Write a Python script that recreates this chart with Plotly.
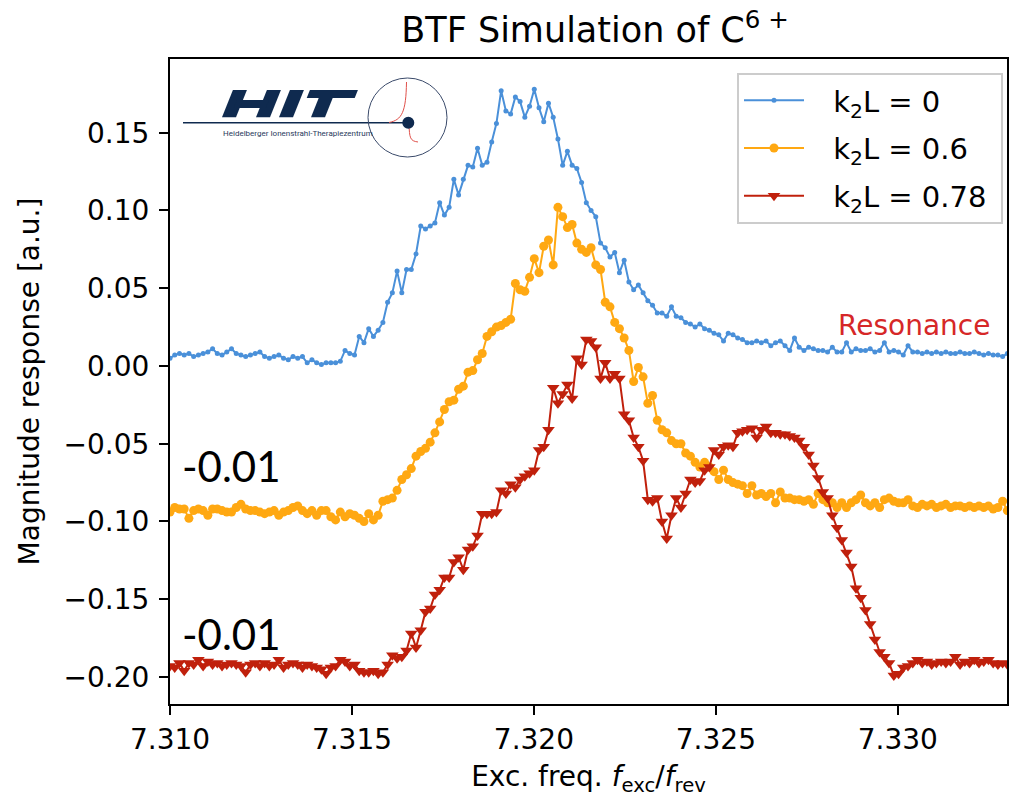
import plotly.graph_objects as go

# ---------------- data ----------------
x_start = 7.3100
x_step = 0.00013
n_pts = 179

k2l_0 = [
 0.005, 0.007, 0.008, 0.007, 0.008, 0.006, 0.007, 0.008, 0.009, 0.011,
 0.008, 0.007, 0.009, 0.011, 0.008, 0.007, 0.006, 0.007, 0.008, 0.009,
 0.006, 0.005, 0.006, 0.007, 0.005, 0.004, 0.006, 0.005, 0.006, 0.002,
 0.004, 0.002, 0.001, 0.002, 0.002, 0.002, 0.003, 0.010, 0.008, 0.007,
 0.019, 0.015, 0.024, 0.019, 0.023, 0.028, 0.041, 0.047, 0.061, 0.047,
 0.062, 0.062, 0.072, 0.090, 0.088, 0.090, 0.092, 0.105, 0.097, 0.102,
 0.120, 0.110, 0.120, 0.129, 0.128, 0.140, 0.129, 0.131, 0.144, 0.156,
 0.177, 0.164, 0.162, 0.173, 0.170, 0.160, 0.167, 0.178, 0.166, 0.157,
 0.169, 0.160, 0.146, 0.129, 0.138, 0.129, 0.127, 0.118, 0.105, 0.100,
 0.096, 0.079, 0.076, 0.070, 0.073, 0.060, 0.068, 0.054, 0.049, 0.052,
 0.047, 0.042, 0.039, 0.034, 0.034, 0.032, 0.038, 0.032, 0.031, 0.028,
 0.027, 0.025, 0.027, 0.024, 0.023, 0.021, 0.020, 0.016, 0.021, 0.020,
 0.018, 0.017, 0.015, 0.015, 0.016, 0.015, 0.016, 0.013, 0.015, 0.016,
 0.013, 0.010, 0.018, 0.012, 0.010, 0.012, 0.011, 0.010, 0.010, 0.009,
 0.012, 0.009, 0.009, 0.015, 0.009, 0.011, 0.010, 0.010, 0.011, 0.009,
 0.010, 0.015, 0.009, 0.010, 0.009, 0.007, 0.013, 0.009, 0.009, 0.008,
 0.009, 0.008, 0.009, 0.008, 0.009, 0.008, 0.008, 0.009, 0.008, 0.008,
 0.009, 0.008, 0.007, 0.008, 0.007, 0.007, 0.006, 0.008, 0.009,
]

k2l_06 = [
 -0.094, -0.091, -0.092, -0.092, -0.098, -0.093, -0.092, -0.093, -0.096, -0.092,
 -0.092, -0.093, -0.094, -0.094, -0.091, -0.089, -0.092, -0.093, -0.093, -0.094,
 -0.095, -0.094, -0.093, -0.096, -0.094, -0.093, -0.091, -0.090, -0.093, -0.095,
 -0.093, -0.096, -0.093, -0.093, -0.097, -0.099, -0.094, -0.097, -0.095, -0.096,
 -0.098, -0.100, -0.095, -0.099, -0.096, -0.087, -0.086, -0.085, -0.080, -0.073,
 -0.070, -0.066, -0.058, -0.055, -0.053, -0.049, -0.043, -0.036, -0.028, -0.023,
 -0.022, -0.015, -0.013, -0.004, -0.003, 0.004, 0.008, 0.019, 0.022, 0.025,
 0.026, 0.028, 0.030, 0.053, 0.049, 0.048, 0.057, 0.069, 0.060, 0.077,
 0.081, 0.065, 0.102, 0.096, 0.089, 0.091, 0.079, 0.075, 0.073, 0.076,
 0.065, 0.062, 0.041, 0.038, 0.028, 0.024, 0.018, 0.010, -0.010, -0.001,
 -0.007, -0.024, -0.019, -0.035, -0.041, -0.043, -0.048, -0.050, -0.050, -0.056,
 -0.058, -0.062, -0.065, -0.062, -0.065, -0.068, -0.073, -0.067, -0.073, -0.075,
 -0.076, -0.077, -0.082, -0.077, -0.083, -0.082, -0.084, -0.082, -0.088, -0.081,
 -0.085, -0.085, -0.086, -0.086, -0.087, -0.086, -0.089, -0.082, -0.086, -0.088,
 -0.088, -0.091, -0.088, -0.091, -0.088, -0.086, -0.083, -0.088, -0.090, -0.088,
 -0.091, -0.086, -0.085, -0.087, -0.088, -0.088, -0.086, -0.090, -0.091, -0.089,
 -0.090, -0.089, -0.091, -0.090, -0.089, -0.091, -0.090, -0.090, -0.091, -0.090,
 -0.091, -0.090, -0.091, -0.090, -0.092, -0.091, -0.087, -0.093, -0.092,
]

k2l_078 = [
 -0.193, -0.194, -0.191, -0.196, -0.191, -0.192, -0.189, -0.193, -0.190, -0.192,
 -0.191, -0.193, -0.192, -0.191, -0.192, -0.193, -0.197, -0.192, -0.191, -0.193,
 -0.191, -0.193, -0.192, -0.189, -0.194, -0.192, -0.191, -0.192, -0.194, -0.192,
 -0.193, -0.194, -0.195, -0.198, -0.194, -0.193, -0.189, -0.190, -0.193, -0.192,
 -0.196, -0.197, -0.197, -0.196, -0.198, -0.197, -0.192, -0.186, -0.188, -0.187,
 -0.183, -0.172, -0.181, -0.170, -0.158, -0.156, -0.147, -0.144, -0.136, -0.136,
 -0.126, -0.123, -0.131, -0.118, -0.116, -0.109, -0.095, -0.095, -0.095, -0.094,
 -0.080, -0.082, -0.076, -0.078, -0.073, -0.071, -0.069, -0.067, -0.054, -0.052,
 -0.041, -0.014, -0.024, -0.018, -0.012, -0.021, 0.005, 0.001, 0.017, 0.016,
 0.012, -0.008, 0.002, -0.008, -0.005, -0.008, -0.031, -0.035, -0.046, -0.052,
 -0.061, -0.086, -0.087, -0.085, -0.100, -0.111, -0.096, -0.085, -0.091, -0.082,
 -0.073, -0.075, -0.074, -0.067, -0.065, -0.054, -0.057, -0.052, -0.051, -0.052,
 -0.043, -0.042, -0.041, -0.040, -0.046, -0.041, -0.039, -0.043, -0.043, -0.044,
 -0.044, -0.045, -0.046, -0.048, -0.052, -0.057, -0.064, -0.072, -0.081, -0.085,
 -0.096, -0.104, -0.112, -0.120, -0.129, -0.143, -0.149, -0.157, -0.166, -0.176,
 -0.184, -0.187, -0.191, -0.199, -0.198, -0.194, -0.193, -0.191, -0.189, -0.191,
 -0.190, -0.192, -0.191, -0.190, -0.191, -0.190, -0.187, -0.192, -0.190, -0.191,
 -0.189, -0.191, -0.190, -0.189, -0.191, -0.192, -0.191, -0.192, -0.193,
]

series_names = ["k<sub>2</sub>L = 0", "k<sub>2</sub>L = 0.6", "k<sub>2</sub>L = 0.78"]
x_ticks = [7.310, 7.315, 7.320, 7.325, 7.330]
y_ticks = [-0.20, -0.15, -0.10, -0.05, 0.00, 0.05, 0.10, 0.15]
offset_labels = ["-0.01", "-0.01"]

freq = [round(x_start + x_step * i, 5) for i in range(n_pts)]

# ---------------- layout geometry ----------------
W, H = 1010, 802
ML, MR, MT, MB = 170, 3, 59, 98
PW, PH = W - ML - MR, H - MT - MB


def px(xp):
    return (xp - ML) / PW


def py(yp):
    return (H - MB - yp) / PH


FONT = "DejaVu Sans, Verdana, sans-serif"
BLUE, ORANGE, RED = "#4a90d9", "#ffa812", "#c0200c"
NAVY = "#0f2a4f"
PRE = "\u00a0\u00a0\u2009"
POST = "\u00a0"

fig = go.Figure()
fig.add_trace(go.Scatter(x=freq, y=k2l_0, mode="lines+markers",
                         name=PRE + series_names[0] + POST, legendgroup="a",
                         line=dict(color=BLUE, width=2),
                         marker=dict(color=BLUE, size=5, symbol="circle")))
fig.add_trace(go.Scatter(x=freq, y=k2l_06, mode="lines+markers",
                         name=PRE + series_names[1] + POST, legendgroup="b",
                         line=dict(color=ORANGE, width=2),
                         marker=dict(color=ORANGE, size=9, symbol="circle")))
fig.add_trace(go.Scatter(x=freq, y=k2l_078, mode="lines+markers",
                         name=PRE + series_names[2] + POST, legendgroup="c",
                         line=dict(color=RED, width=2),
                         marker=dict(color=RED, size=11, symbol="triangle-down")))

axis_common = dict(showline=True, linecolor="black", linewidth=2, mirror=True,
                   ticks="outside", ticklen=9, tickwidth=2, tickcolor="black",
                   showgrid=False, zeroline=False, automargin=False,
                   tickfont=dict(family=FONT, size=28, color="black"))

fig.update_xaxes(range=[7.3100, 7.3330], tickvals=x_ticks, tickformat=".3f",
                 title=dict(text="Exc. freq. <i>f</i><sub>exc</sub>/<i>f</i><sub>rev</sub>",
                            font=dict(family=FONT, size=28, color="black"), standoff=12),
                 **axis_common)
fig.update_yaxes(range=[-0.2174, 0.1974], tickvals=y_ticks, tickformat=".2f",
                 ticklabelstandoff=4,
                 title=dict(text="Magnitude response [a.u.]",
                            font=dict(family=FONT, size=28, color="black"), standoff=16),
                 **axis_common)

# ---------------- HIT logo (decoration) ----------------
shapes = []


def poly(pts, color):
    d = "M " + " L ".join(f"{px(a):.5f},{py(b):.5f}" for a, b in pts) + " Z"
    return dict(type="path", xref="paper", yref="paper", path=d,
                fillcolor=color, line=dict(width=0), layer="above")


top, bot, sl = 90.0, 117.3, 0.40


def slx(x_bottom, y):
    return x_bottom + (bot - y) * sl


def stem(xb0, xb1):
    return [(xb0, bot), (xb1, bot), (slx(xb1, top), top), (slx(xb0, top), top)]


def bar(x_left_b, x_right_b, y0, y1):
    return [(slx(x_left_b, y1), y1), (slx(x_right_b, y1), y1),
            (slx(x_right_b, y0), y0), (slx(x_left_b, y0), y0)]


# H
shapes.append(poly(stem(222, 236), NAVY))
shapes.append(poly(stem(256, 270), NAVY))
shapes.append(poly(bar(230, 262, 100, 108), NAVY))
# I
shapes.append(poly(stem(279, 293), NAVY))
# T
shapes.append(poly(stem(311, 325), NAVY))
shapes.append(poly(bar(299, 347, 90, 98), NAVY))
# baseline
shapes.append(dict(type="line", xref="paper", yref="paper",
                   x0=px(183), x1=px(408), y0=py(122.7), y1=py(122.7),
                   line=dict(color=NAVY, width=1.5), layer="above"))
# circle
shapes.append(dict(type="circle", xref="paper", yref="paper",
                   x0=px(368), x1=px(447), y0=py(157), y1=py(78),
                   line=dict(color="#3a4a6a", width=1), layer="above"))
# red resonance curve
c1 = (f"M {px(389):.5f},{py(122.5):.5f} C {px(402):.5f},{py(120):.5f} "
      f"{px(406):.5f},{py(112):.5f} {px(406.5):.5f},{py(82):.5f}")
c2 = (f"M {px(409):.5f},{py(124):.5f} C {px(409.5):.5f},{py(138):.5f} "
      f"{px(410):.5f},{py(141):.5f} {px(418):.5f},{py(142):.5f}")
for c in (c1, c2):
    shapes.append(dict(type="path", xref="paper", yref="paper", path=c,
                       line=dict(color="#e0504a", width=1), layer="above"))
# dot
shapes.append(dict(type="circle", xref="paper", yref="paper",
                   x0=px(402.3), x1=px(414.3), y0=py(128.7), y1=py(116.7),
                   fillcolor=NAVY, line=dict(width=0), layer="above"))

annotations = [
    dict(text="Heidelberger Ionenstrahl-Therapiezentrum", xref="paper", yref="paper",
         x=px(221), y=py(133), xanchor="left", yanchor="middle", showarrow=False,
         font=dict(family="Roboto, sans-serif", size=8, color="#2a3a5c")),
    dict(text="Resonance", xref="paper", yref="paper", x=px(914), y=py(325),
         xanchor="center", yanchor="middle", showarrow=False,
         font=dict(family=FONT, size=28, color="#d62728")),
    dict(text=offset_labels[0], xref="paper", yref="paper", x=px(180), y=py(466),
         xanchor="left", yanchor="middle", showarrow=False,
         font=dict(family="Lato, Open Sans, sans-serif", size=42, color="black")),
    dict(text=offset_labels[1], xref="paper", yref="paper", x=px(180), y=py(634),
         xanchor="left", yanchor="middle", showarrow=False,
         font=dict(family="Lato, Open Sans, sans-serif", size=42, color="black")),
]

fig.update_layout(
    width=W, height=H,
    margin=dict(l=ML, r=MR, t=MT, b=MB, pad=0, autoexpand=False),
    paper_bgcolor="white", plot_bgcolor="white",
    title=dict(text="BTF Simulation of C<sup>6 +</sup>", x=595 / W, xanchor="center",
               y=1 - 30 / H, yanchor="middle",
               font=dict(family=FONT, size=35, color="black")),
    font=dict(family=FONT, color="black"),
    legend=dict(x=px(1003), y=py(73), xanchor="right", yanchor="top",
                bgcolor="white", bordercolor="#cccccc", borderwidth=2,
                font=dict(family=FONT, size=29, color="black"),
                itemwidth=60, tracegroupgap=7),
    shapes=shapes, annotations=annotations,
    showlegend=True,
)

fig.write_html("out.html", config={"displayModeBar": False},
               post_script="document.body.style.margin='0';document.body.style.overflow='hidden';")
